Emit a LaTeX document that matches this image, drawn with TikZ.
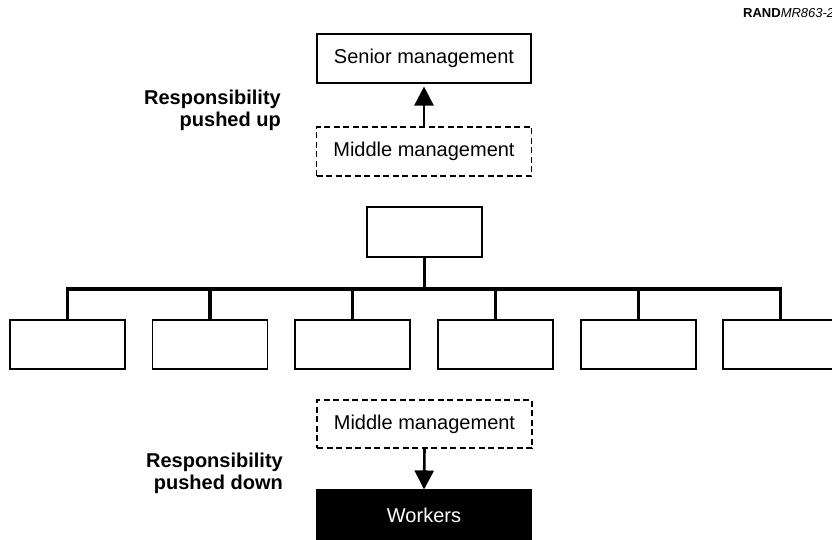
\documentclass[tikz,border=0pt]{standalone}
\usepackage{fontspec}
\setmainfont{Liberation Sans}
\usetikzlibrary{arrows.meta}
\begin{document}
\begin{tikzpicture}[x=1pt,y=-1pt,
  box/.style={draw, line width=1.1pt, inner sep=0pt, minimum width=#1,
    minimum height=49pt, font=\fontsize{20}{24}\selectfont},
  box/.default=115pt,
  dashbox/.style={box=215pt, dash pattern=on 6pt off 3.5pt},
  sidenote/.style={align=right, anchor=east, inner sep=0pt,
    font=\bfseries\fontsize{20}{22}\selectfont},
  orgline/.style={line width=3.6pt, line join=miter},
  push/.style={line width=2.6pt, -{Triangle[width=19pt,length=19pt]}}
]
\useasboundingbox (0,0) rectangle (832,540);

% figure tag
\node[anchor=base west, inner sep=0pt, font=\fontsize{13}{15}\selectfont]
  (tag) at (743,18) {\textbf{RAND}\textit{MR863-2}};

% responsibility pushed up
\node[box=214pt] (senior) at (424,58.5) {Senior management};
\node[dashbox] (midup) at (424,151.5) {Middle management};
\draw[push, shorten >=3pt] (midup.north) -- (senior.south);
\node[sidenote] (uplabel) at (281,110) {Responsibility\\pushed up};

% organisation chart
\node[box, minimum height=50pt] (head) at (424.5,232) {};
\node[box] (b1) at (67.5,344.5) {};
\node[box] (b2) at (210,344.5) {};
\node[box] (b3) at (352.5,344.5) {};
\node[box] (b4) at (495.5,344.5) {};
\node[box] (b5) at (638.5,344.5) {};
\node[box] (b6) at (780.5,344.5) {};
\coordinate (bus) at (424.5,289);
\draw[orgline] (b1.north) |- (bus) -| (b6.north);
\draw[orgline] (head.south) -- (bus);
\foreach \b in {b2,b3,b4,b5}
  \draw[orgline] (\b.north) -- (\b.north |- bus);

% responsibility pushed down
\node[dashbox, minimum height=48pt] (middown) at (424.5,424) {Middle management};
\node[box=214pt, minimum height=50pt, fill=black, text=white] (workers) at (424,515) {Workers};
\draw[push] (middown.south) -- (workers.north);
\node[sidenote] (downlabel) at (283,473) {Responsibility\\pushed down};
\end{tikzpicture}
\end{document}
